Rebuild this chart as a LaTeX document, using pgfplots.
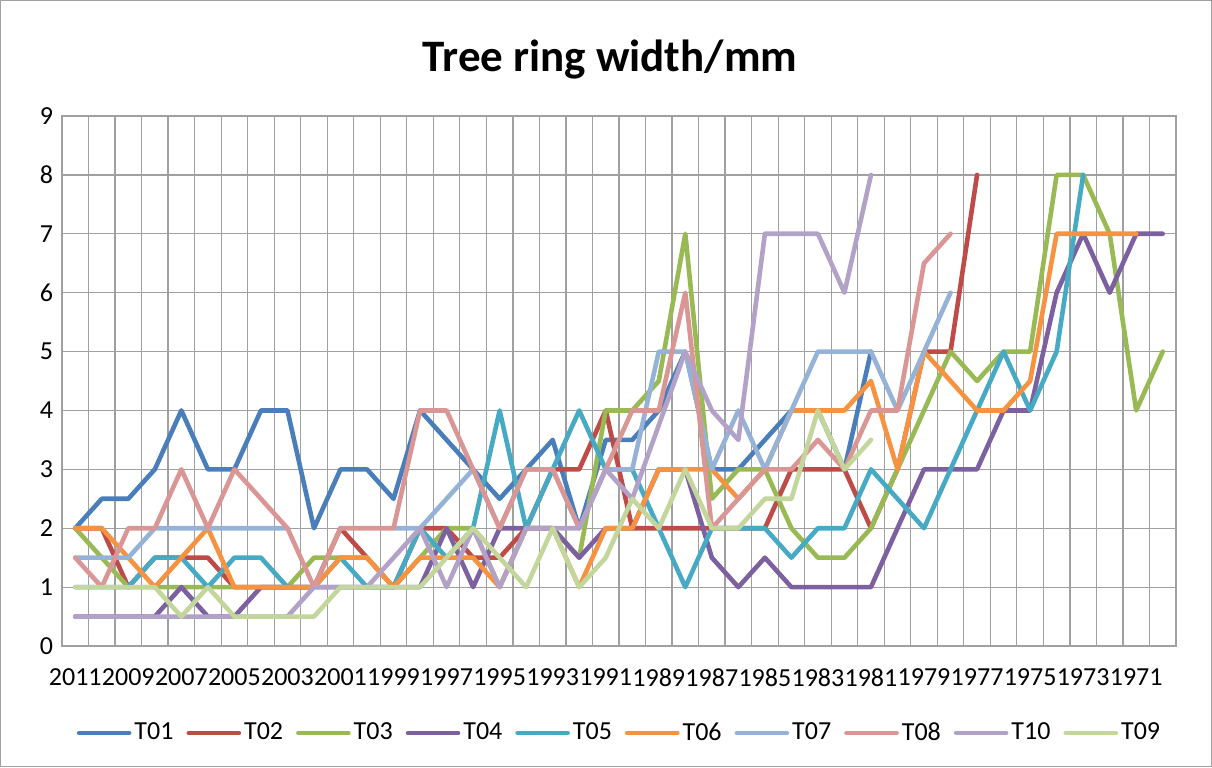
\documentclass[border=0pt]{standalone}
\usepackage{fontspec}
\setmainfont{Carlito}
\usepackage{pgfplots}
\usepackage{pgfplotstable}
\pgfplotsset{compat=1.18}
\definecolor{c1}{HTML}{4A7EBB}
\definecolor{c2}{HTML}{BE4B48}
\definecolor{c3}{HTML}{98B954}
\definecolor{c4}{HTML}{7D60A0}
\definecolor{c5}{HTML}{46AAC5}
\definecolor{c6}{HTML}{F69240}
\definecolor{c7}{HTML}{95B3D7}
\definecolor{c8}{HTML}{D99694}
\definecolor{c10}{HTML}{B3A2C7}
\definecolor{c9}{HTML}{C3D69B}
\definecolor{gridgray}{HTML}{A0A0A0}

\pgfplotstableread{
x  T01 T02 T03 T04 T05 T06 T07 T08 T10 T09
0  2   2   2   0.5 1   2   1.5 1.5 0.5 1
1  2.5 2   1.5 0.5 1   2   1.5 1   0.5 1
2  2.5 1   1   0.5 1   1.5 1.5 2   0.5 1
3  3   1.5 1   0.5 1.5 1   2   2   0.5 1
4  4   1.5 1   1   1.5 1.5 2   3   0.5 0.5
5  3   1.5 1   0.5 1   2   2   2   0.5 1
6  3   1   1   0.5 1.5 1   2   3   0.5 0.5
7  4   1   1   1   1.5 1   2   2.5 0.5 0.5
8  4   1   1   1   1   1   2   2   0.5 0.5
9  2   1   1.5 1   1   1   nan 1   1   0.5
10 3   2   1.5 1   1.5 1.5 nan 2   1   1
11 3   1.5 1.5 1   1   1.5 nan 2   1   1
12 2.5 1   1   1   1   1   2   2   1.5 1
13 4   2   1.5 1   2   1.5 2   4   2   1
14 3.5 2   2   2   1.5 1.5 2.5 4   1   1.5
15 3   1.5 2   1   2   1.5 3   3   2   2
16 2.5 1.5 1   2   4   1   2   2   1   1.5
17 3   2   2   2   2   2   3   3   2   1
18 3.5 3   2   2   3   2   3   3   2   2
19 2   3   1.5 1.5 4   1   2   2   2   1
20 3.5 4   4   2   3   2   3   3   3   1.5
21 3.5 2   4   2   3   2   3   4   2.5 2.5
22 4   2   4.5 3   2   3   5   4   3.75 2
23 5   2   7   3   1   3   5   6   5   3
24 3   2   2.5 1.5 2   3   3   2   4   2
25 3   2   3   1   2   2.5 4   2.5 3.5 2
26 3.5 2   3   1.5 2   3   3   3   7   2.5
27 4   3   2   1   1.5 4   4   3   7   2.5
28 4   3   1.5 1   2   4   5   3.5 7   4
29 3   3   1.5 1   2   4   5   3   6   3
30 5   2   2   1   3   4.5 5   4   8   3.5
31 nan 3   3   2   2.5 3   4   4   nan nan
32 nan 5   4   3   2   5   5   6.5 nan nan
33 nan 5   5   3   3   4.5 6   7   nan nan
34 nan 8   4.5 3   4   4   nan nan nan nan
35 nan nan 5   4   5   4   nan nan nan nan
36 nan nan 5   4   4   4.5 nan nan nan nan
37 nan nan 8   6   5   7   nan nan nan nan
38 nan nan 8   7   8   7   nan nan nan nan
39 nan nan 7   6   nan 7   nan nan nan nan
40 nan nan 4   7   nan 7   nan nan nan nan
41 nan nan 5   7   nan nan nan nan nan nan
}\data

\begin{document}
\begin{tikzpicture}
\path[use as bounding box] (-31pt,-60.5pt) rectangle (575pt,323pt);
\draw[gridgray, line width=0.6pt] (-30.6pt,-60.1pt) rectangle (574.6pt,322.6pt);
\begin{axis}[
  at={(0pt,0pt)}, anchor=south west,
  scale only axis, width=557pt, height=265pt,
  xmin=-0.5, xmax=41.5, ymin=0, ymax=9,
  xtick={0,2,...,40},
  xticklabels={2011,2009,2007,2005,2003,2001,1999,1997,1995,1993,1991,1989,1987,1985,1983,1981,1979,1977,1975,1973,1971},
  minor xtick={-0.5,0.5,...,41.5},
  ytick={0,1,...,9},
  xminorgrids, ymajorgrids,
  major tick length=0pt, minor tick length=0pt,
  grid style={line width=0.6pt, color=gridgray},
  minor grid style={line width=0.6pt, color=gridgray},
  axis line style={line width=0.6pt, color=gridgray},
  tick label style={font=\fontsize{13}{15}\selectfont, text=black},
  /pgf/number format/assume math mode=true,
  xticklabel style={yshift=-8pt},
  yticklabel style={xshift=-1pt},
  unbounded coords=jump,
  every axis plot/.append style={line width=2.3pt, line join=round, line cap=round, mark=none},
  legend style={at={(0.5009,-0.1642)}, anchor=center, draw=none, fill=none,
    legend columns=10, font=\fontsize{13}{15}\selectfont,
    nodes={inner sep=1.5pt},
    /tikz/every even column/.append style={column sep=5pt}},
  legend image code/.code={\draw[#1] (0pt,0pt) -- (25pt,0pt);},
]
\addplot[color=c1] table[x=x,y=T01]{\data}; \addlegendentry{T01}
\addplot[color=c2] table[x=x,y=T02]{\data}; \addlegendentry{T02}
\addplot[color=c3] table[x=x,y=T03]{\data}; \addlegendentry{T03}
\addplot[color=c4] table[x=x,y=T04]{\data}; \addlegendentry{T04}
\addplot[color=c5] table[x=x,y=T05]{\data}; \addlegendentry{T05}
\addplot[color=c6] table[x=x,y=T06]{\data}; \addlegendentry{T06}
\addplot[color=c7] table[x=x,y=T07]{\data}; \addlegendentry{T07}
\addplot[color=c8] table[x=x,y=T08]{\data}; \addlegendentry{T08}
\addplot[color=c10] table[x=x,y=T10]{\data}; \addlegendentry{T10}
\addplot[color=c9] table[x=x,y=T09]{\data}; \addlegendentry{T09}
\end{axis}
\node[font=\fontsize{22.5}{27}\selectfont\bfseries] at (274pt,293pt) {Tree ring width/mm};
\end{tikzpicture}
\end{document}
